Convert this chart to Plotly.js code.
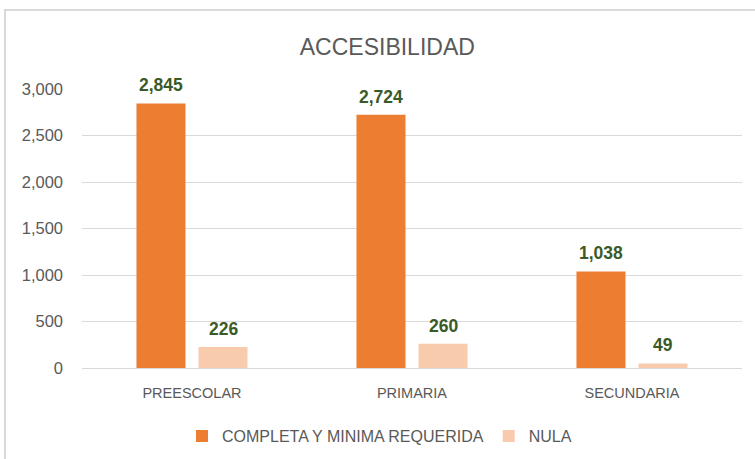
<!DOCTYPE html>
<html>
<head>
<meta charset="utf-8">
<script src="https://cdn.plot.ly/plotly-3.0.1.min.js"></script>
<style>html,body{margin:0;padding:0;background:#fff;}#chart{width:755px;height:459px;}</style>
</head>
<body>
<div id="chart"></div>
<script>
const categories = ["PREESCOLAR", "PRIMARIA", "SECUNDARIA"];
const seriesNames = ["COMPLETA Y MINIMA REQUERIDA", "NULA"];
const completa = [2845, 2724, 1038];
const nula = [226, 260, 49];
const yTicks = [0, 500, 1000, 1500, 2000, 2500, 3000];

const gray = "#595959";
const font = "Liberation Sans, Arial, sans-serif";

const traces = [
  {type: "bar", name: seriesNames[0], x: categories, y: completa,
   marker: {color: "#ED7D31"}, hoverinfo: "x+y"},
  {type: "bar", name: seriesNames[1], x: categories, y: nula,
   marker: {color: "#F8CBAD"}, hoverinfo: "x+y"}
];

const fmt = v => v.toLocaleString("en-US");
const annotations = [];
[completa, nula].forEach((vals, si) => {
  vals.forEach((v, i) => {
    annotations.push({
      x: categories[i], y: v, xref: "x", yref: "y",
      text: "<b>" + fmt(v) + "</b>", showarrow: false,
      xanchor: "center", yanchor: "bottom",
      xshift: si === 0 ? -31 : 31, yshift: 6,
      font: {family: font, size: 17.5, color: "#3A5A27"}
    });
  });
});

const layout = {
  width: 755, height: 459,
  margin: {l: 82, r: 13, t: 89, b: 91, autoexpand: false},
  paper_bgcolor: "#fff", plot_bgcolor: "#fff",
  title: {text: "ACCESIBILIDAD", x: 0.513, xref: "container", xanchor: "center",
          y: 0.898, yref: "container", yanchor: "middle",
          font: {family: font, size: 23, color: gray}},
  barmode: "group", bargap: 0.436, bargroupgap: 0.21,
  xaxis: {type: "category", showline: false, ticks: "", showgrid: false,
          tickfont: {family: font, size: 14.5, color: gray}, ticklabelstandoff: 14},
  yaxis: {range: [0, 3000], tickvals: yTicks, ticktext: yTicks.map(fmt),
          showgrid: true, gridcolor: "#D9D9D9", gridwidth: 1,
          zeroline: true, zerolinecolor: "#D9D9D9", zerolinewidth: 1,
          showline: false, ticks: "", ticklabelstandoff: 18,
          tickfont: {family: font, size: 16.5, color: gray}},
  showlegend: true,
  legend: {orientation: "h", x: 0.1515, xanchor: "left", y: -0.244, yanchor: "middle",
           font: {family: font, size: 16, color: gray}, itemwidth: 30,
           traceorder: "normal", itemclick: false},
  annotations: annotations,
  shapes: [{type: "rect", xref: "paper", yref: "paper",
            x0: -0.1167, x1: 1.04, y0: -0.36, y1: 1.283,
            line: {color: "#D9D9D9", width: 2}, fillcolor: "rgba(0,0,0,0)", layer: "below"}]
};

Plotly.newPlot("chart", traces, layout, {displayModeBar: false, staticPlot: true});
</script>
</body>
</html>
